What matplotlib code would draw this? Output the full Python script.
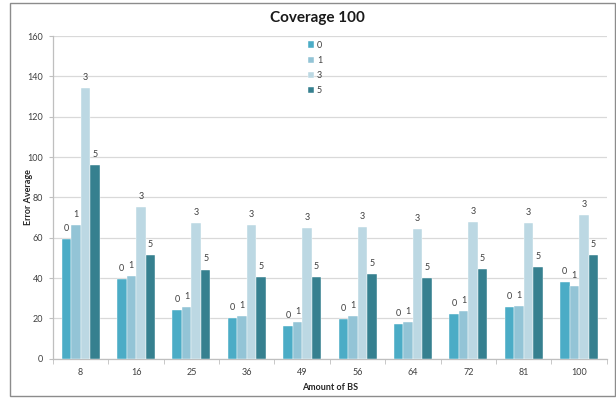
import matplotlib.pyplot as plt
import numpy as np
from matplotlib.patches import Rectangle

# ── Data ─────────────────────────────────────────────────────────────────────
amount_bs = ["8", "16", "25", "36", "49", "56", "64", "72", "81", "100"]
series_names = ["0", "1", "3", "5"]

err_0 = [59.1, 39.7, 24.1, 20.0, 16.1, 19.5, 17.0, 22.3, 25.5, 38.0]
err_1 = [66.2, 40.8, 25.7, 21.1, 18.0, 21.1, 18.3, 23.8, 26.2, 35.9]
err_3 = [134.2, 75.2, 67.4, 66.5, 64.7, 65.3, 64.2, 67.6, 67.2, 71.0]
err_5 = [96.2, 51.5, 44.2, 40.6, 40.3, 41.8, 40.0, 44.4, 45.6, 51.5]

# ── Style ────────────────────────────────────────────────────────────────────
COLORS = ["#4BACC6", "#93C4D6", "#BCD8E3", "#36808F"]
GRID = "#D9D9D9"
AXIS = "#BFBFBF"
TEXT = "#404040"
FONT = "Lato"

plt.rcParams["font.family"] = [FONT, "DejaVu Sans"]

fig = plt.figure(figsize=(6.16, 3.98), dpi=100, facecolor="white")
ax = fig.add_axes([0.086, 0.0988, 0.899, 0.8107])

# chart frame
fig.patches.append(Rectangle((10 / 616, 2 / 398), 605 / 616, 393 / 398,
                             transform=fig.transFigure, fill=False,
                             edgecolor="#8C8C8C", linewidth=1.0))

x = np.arange(len(amount_bs))
w = 0.172
all_series = [err_0, err_1, err_3, err_5]

for i, (vals, name, col) in enumerate(zip(all_series, series_names, COLORS)):
    offs = (i - 1.5) * w
    ax.bar(x + offs, vals, w, color=col, zorder=3, label=name,
           edgecolor="white", linewidth=0.3)
    for xi, v in zip(x, vals):
        ax.text(xi + offs, v + 3, name, ha="center", va="bottom",
                fontsize=6.5, color=TEXT)

ax.set_xlim(-0.5, len(amount_bs) - 0.5)
ax.set_ylim(0, 160)
ax.set_yticks(range(0, 161, 20))
ax.set_xticks(x)
ax.set_xticklabels(amount_bs)
ax.set_xticks(np.arange(-0.5, len(amount_bs), 1), minor=True)

ax.yaxis.grid(True, color=GRID, linewidth=0.9, zorder=0)
ax.set_axisbelow(True)
for s in ["top", "right"]:
    ax.spines[s].set_visible(False)
ax.spines["left"].set_color(AXIS)
ax.spines["bottom"].set_color(AXIS)
ax.spines["left"].set_linewidth(0.9)
ax.spines["bottom"].set_linewidth(0.9)

ax.tick_params(axis="x", which="major", length=0, labelsize=6.5,
               labelcolor=TEXT, pad=7)
ax.tick_params(axis="x", which="minor", length=3.5, color=AXIS)
ax.tick_params(axis="y", length=3, color=AXIS, labelsize=6.5,
               labelcolor=TEXT, pad=4)

ax.set_xlabel("Amount of BS", fontsize=6.5, fontweight="bold",
              color="#262626")
ax.set_ylabel("Error Average", fontsize=6.5, fontweight="bold",
              color="#262626")
ax.xaxis.set_label_coords(0.5, -0.075)
ax.yaxis.set_label_coords(-0.036, 0.5)

fig.text(0.516, 0.955, "Coverage 100", ha="center", va="center",
         fontsize=11, fontweight="bold", color="#1A1A1A")

ax.legend(loc="upper left", bbox_to_anchor=(0.452, 1.0), frameon=False,
          fontsize=6.5, labelcolor=TEXT, handlelength=0.7, handleheight=0.7,
          handletextpad=0.3, labelspacing=0.7, borderaxespad=0.1)

fig.savefig("out.png", dpi=100, facecolor="white")
